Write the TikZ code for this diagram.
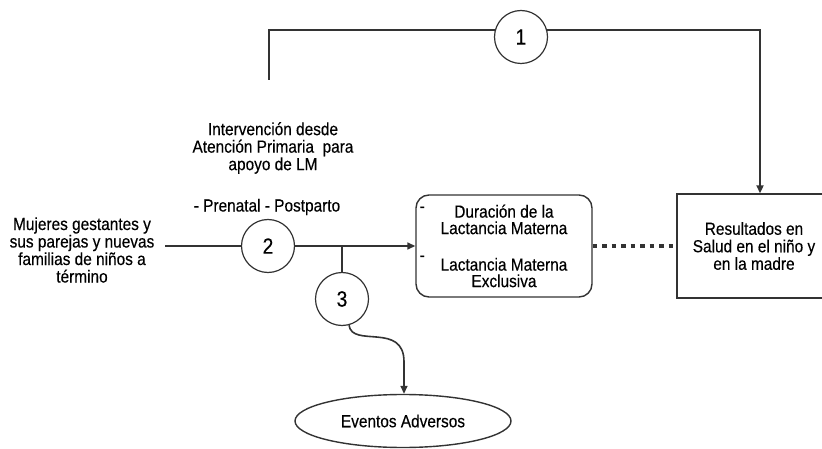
\documentclass[tikz,border=0pt]{standalone}
\usepackage{fontspec}
\setmainfont{Liberation Sans}[FakeStretch=0.88,FakeBold=0.3]
\usepackage{xcolor}
\usepackage{tikz}
\usetikzlibrary{calc,shapes,arrows.meta}

\definecolor{linegray}{HTML}{333333}

\begin{document}
\begin{tikzpicture}[x=1pt, y=-1pt,
    font=\fontsize{17.5}{17.5}\selectfont,
    num/.style={circle, draw=linegray, line width=1.2pt, fill=white,
      minimum size=53pt, inner sep=0pt, font=\fontsize{22}{24}\selectfont},
    txt/.style={align=center, inner sep=0pt},
    rbox/.style={draw=linegray, line width=1.4pt, rounded corners=13pt,
      minimum width=176pt, minimum height=102pt, align=center,
      font=\fontsize{17.5}{16.5}\selectfont},
    sbox/.style={draw=linegray, line width=1.4pt, minimum width=154pt,
      minimum height=104pt, align=center},
    oval/.style={ellipse, draw=linegray, line width=1.4pt,
      minimum width=216pt, minimum height=53pt},
    conn/.style={draw=linegray, line width=1.6pt},
    arr/.style={conn, -{Triangle[length=8pt,width=7pt]}}
  ]
  \clip (0,0) rectangle (822,449);
  \fill[white] (0,0) rectangle (822,449);

  \node[txt] (interv) at (273,148) {Intervención desde\\Atención Primaria\ \ para\\apoyo de LM};
  \node[txt] (fases) at (267,207) {- Prenatal - Postparto};
  \node[txt] (mujeres) at (82,250) {Mujeres gestantes y\\sus parejas y nuevas\\familias de niños a\\término};
  \node[rbox] (lact) at (504,246) {Duración de la\\Lactancia Materna\\[20pt]Lactancia Materna\\Exclusiva};
  \node[sbox] (result) at (754,246) {Resultados en\\Salud en el niño y\\en la madre};
  \node[oval] (adv) at (403,421) {Eventos Adversos};
  % bullets in the rounded box
  \node[txt] (dash1) at ($(lact.north west)+(7,15)$) {-};
  \node[txt] (dash2) at ($(lact.north west)+(7,64)$) {-};

  \coordinate (start) at (269,80);
  \coordinate (top) at (760,30);
  \draw[arr, line width=2.6pt] (start) |- (top) -- (top |- result.north);
  \node[num] (c1) at (521,37) {1};

  \node[num] (c2) at (268,246) {2};
  \node[num] (c3) at (342,299) {3};
  \coordinate (src) at (165,246);
  \coordinate (branch) at (342,246);

  \draw[conn] (src) -- (c2);
  \draw[arr] (c2) -- (lact);
  \draw[conn] (branch) -- (c3);
  \draw[arr] (c3.-75) .. controls +(3,23) and +(0,-40) .. ($(adv.north)+(1,-32)$) -- ($(adv.north)+(1,0)$);
  \draw[draw=linegray, line width=4.5pt, dash pattern=on 4.5pt off 5pt] (lact) -- (result);
\end{tikzpicture}
\end{document}
